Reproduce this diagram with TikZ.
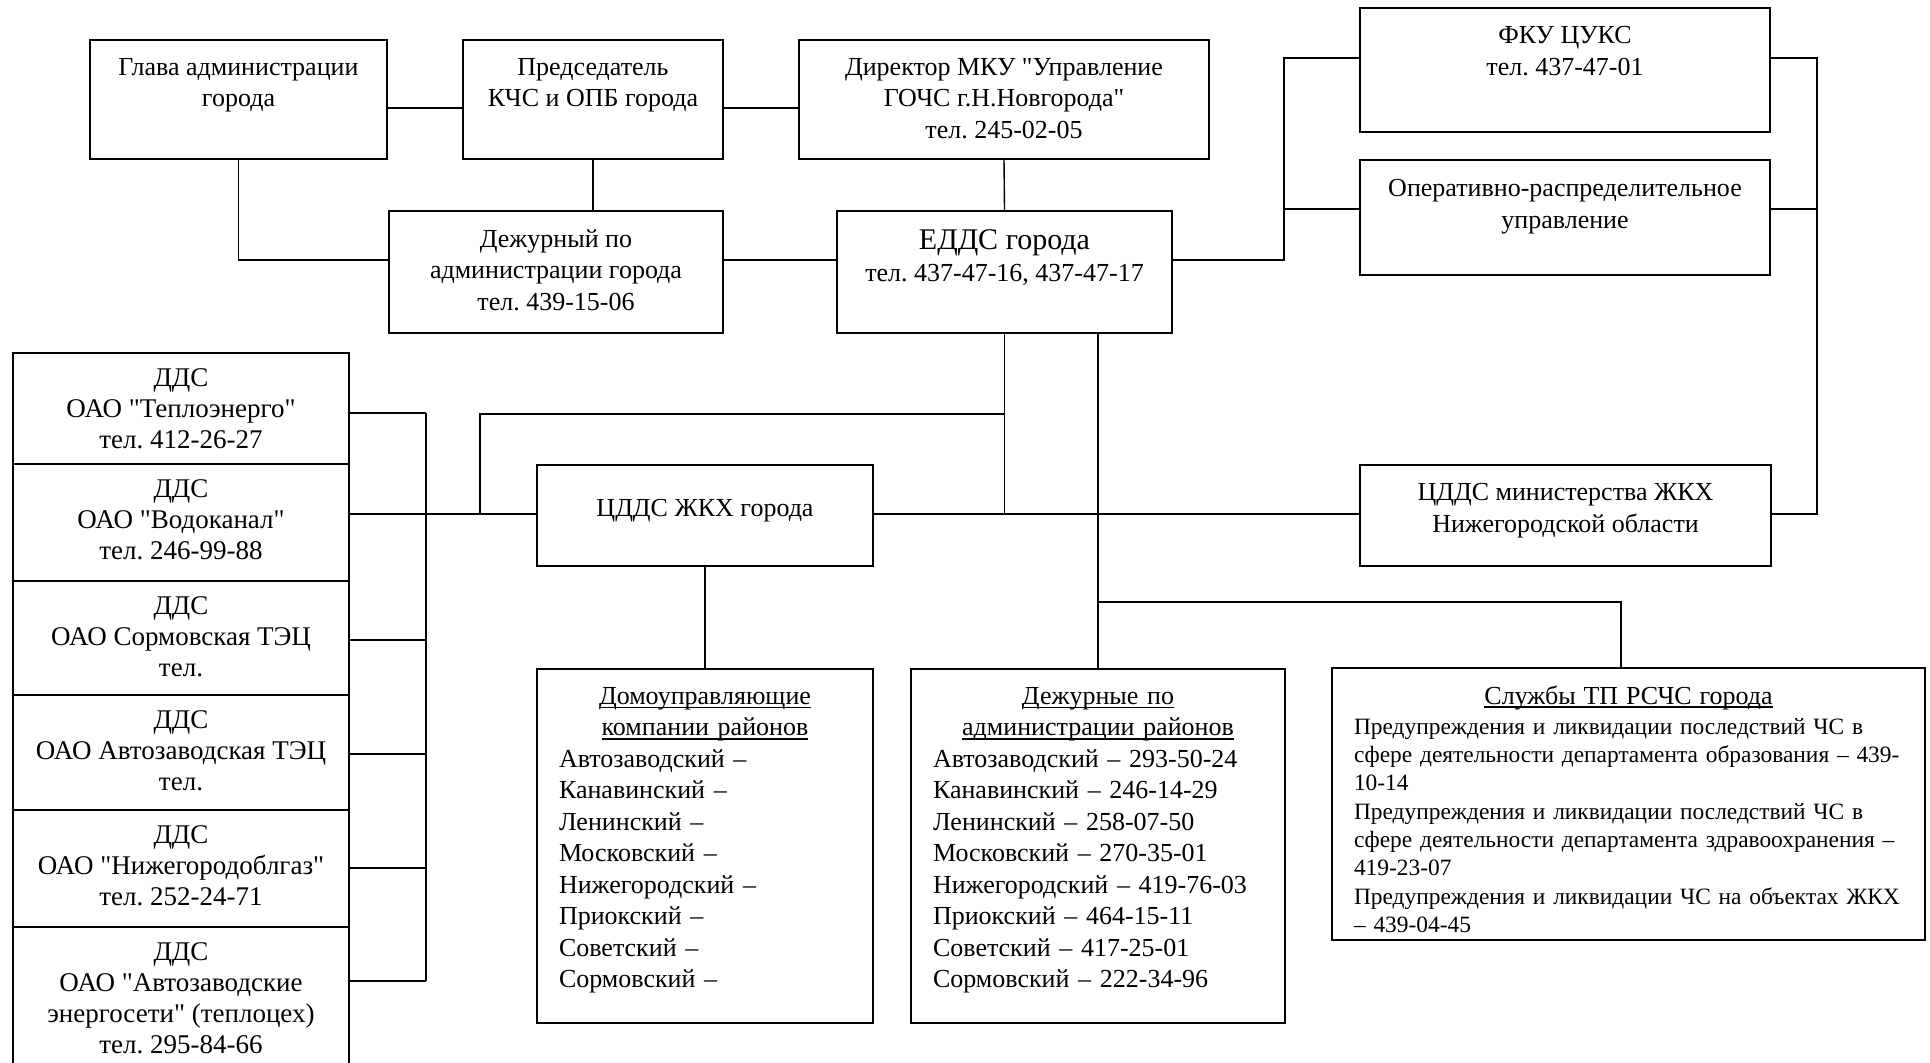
\documentclass[tikz,border=0pt]{standalone}
\usepackage{fontspec}
\setmainfont{Liberation Serif}[Ligatures=TeXOff]
\frenchspacing
\newcommand{\uln}[1]{\leavevmode\setbox0=\hbox{#1}\rlap{\rule[-1.8pt]{\wd0}{0.6pt}}\box0}

\tikzset{
  blk/.style={draw, line width=1pt, inner sep=0pt, anchor=north west},
  txt/.style={anchor=north, inner sep=0pt, align=center, font=\fontsize{13}{15.75}\selectfont},
  lst/.style={txt, align=left},
  lnk/.style={line width=0.7pt},
}

\begin{document}
\begin{tikzpicture}[x=1pt, y=-1pt]
\useasboundingbox (0,0) rectangle (965,531);

% top rows
\node[blk, minimum width=148.5pt, minimum height=59.5pt] (glava) at (44.5,19.5) {};
\node[txt] (glava-t) at ([yshift=-9.5pt]glava.north) {Глава администрации\\города};
\node[blk, minimum width=130pt, minimum height=59.5pt] (pred) at (231,19.5) {};
\node[txt] (pred-t) at ([yshift=-9.5pt]pred.north) {Председатель\\КЧС и ОПБ города};
\node[blk, minimum width=205pt, minimum height=59.5pt] (dir) at (399,19.5) {};
\node[txt] (dir-t) at ([yshift=-9.5pt]dir.north) {Директор МКУ "Управление\\ГОЧС г.Н.Новгорода"\\тел. 245-02-05};
\node[blk, minimum width=167pt, minimum height=61pt] (dezh) at (194,105) {};
\node[txt] (dezh-t) at ([yshift=-9.5pt]dezh.north) {Дежурный по\\администрации города\\тел. 439-15-06};
\node[blk, minimum width=167.5pt, minimum height=61pt] (edds) at (418,105) {};
\node[txt] (edds-t) at ([yshift=-9.5pt]edds.north) {{\fontsize{15}{16.5}\selectfont ЕДДС города}\\[0.5pt]тел. 437-47-16, 437-47-17};

% right column
\node[blk, minimum width=205pt, minimum height=62pt] (fku) at (679.5,3.5) {};
\node[txt] (fku-t) at ([yshift=-9.5pt]fku.north) {ФКУ ЦУКС\\тел. 437-47-01};
\node[blk, minimum width=205pt, minimum height=57.5pt] (oru) at (679.5,79.5) {};
\node[txt] (oru-t) at ([yshift=-10pt]oru.north) {Оперативно-распределительное\\управление};
\node[blk, minimum width=205.5pt, minimum height=50.5pt] (cddsmin) at (679.5,232) {};
\node[txt, anchor=center] (cddsmin-t) at ([yshift=2.5pt]cddsmin.center) {ЦДДС министерства ЖКХ\\Нижегородской области};

% middle
\node[blk, minimum width=168pt, minimum height=50.5pt] (cdds) at (268,232) {};
\node[txt, anchor=center] (cdds-t) at ([yshift=2.5pt]cdds.center) {ЦДДС ЖКХ города};
\node[blk, minimum width=168pt, minimum height=177pt] (dom) at (268,334) {};
\node[lst, text width=146pt] (dom-t) at ([yshift=-9.5pt]dom.north) {%
  \makebox[\linewidth]{\uln{Домоуправляющие}}\\
  \makebox[\linewidth]{\uln{компании районов}}\\
  Автозаводский –\\ Канавинский –\\ Ленинский –\\ Московский –\\
  Нижегородский –\\ Приокский –\\ Советский –\\ Сормовский –};
\node[blk, minimum width=187pt, minimum height=177pt] (dezhr) at (455,334) {};
\node[lst, text width=165pt] (dezhr-t) at ([yshift=-9.5pt]dezhr.north) {%
  \makebox[\linewidth]{\uln{Дежурные по}}\\
  \makebox[\linewidth]{\uln{администрации районов}}\\
  Автозаводский – 293-50-24\\ Канавинский – 246-14-29\\ Ленинский – 258-07-50\\
  Московский – 270-35-01\\ Нижегородский – 419-76-03\\ Приокский – 464-15-11\\
  Советский – 417-25-01\\ Сормовский – 222-34-96};
\node[blk, minimum width=296.5pt, minimum height=136pt] (sluzh) at (665.5,333.5) {};
\node[lst, text width=274.5pt, font=\fontsize{11.7}{14.15}\selectfont] (sluzh-t) at ([yshift=-9pt]sluzh.north) {%
  \makebox[\linewidth]{\fontsize{13}{15}\selectfont\uln{Службы ТП РСЧС города}}\\[1pt]
  \makebox[\linewidth][s]{Предупреждения и ликвидации последствий ЧС в}\\
  \makebox[\linewidth][s]{сфере деятельности департамента образования – 439-}\\
  10-14\\
  \makebox[\linewidth][s]{Предупреждения и ликвидации последствий ЧС в}\\
  \makebox[\linewidth][s]{сфере деятельности департамента здравоохранения –}\\
  419-23-07\\
  \makebox[\linewidth][s]{Предупреждения и ликвидации ЧС на объектах ЖКХ}\\
  – 439-04-45};

% left column
\foreach \n/\ytop/\hgt/\lbl in {
  1/176/55.5/{ДДС\\ОАО "Теплоэнерго"\\тел. 412-26-27},
  2/231.5/58.5/{ДДС\\ОАО "Водоканал"\\тел. 246-99-88},
  3/290/57/{ДДС\\ОАО Сормовская ТЭЦ\\тел.},
  4/347/57.5/{ДДС\\ОАО Автозаводская ТЭЦ\\тел.},
  5/404.5/58.5/{ДДС\\ОАО "Нижегородоблгаз"\\тел. 252-24-71},
  6/463/72/{ДДС\\ОАО "Автозаводские\\энергосети" (теплоцех)\\тел. 295-84-66}}{
  \node[blk, minimum width=168pt, minimum height=\hgt pt] (dds\n) at (6,\ytop) {};
  \node[txt, font=\fontsize{13.5}{15.6}\selectfont] (dds\n-t) at ([yshift=-8pt]dds\n.north) {\lbl};
}

% connectors
\coordinate (r1) at (0,54);
\coordinate (r2) at (0,130);
\coordinate (r3) at (0,207);
\coordinate (r4) at (0,257);
\coordinate (r5) at (0,301);
\draw[lnk] (glava.east |- r1) -- (pred.west |- r1);
\draw[lnk] (pred.east |- r1) -- (dir.west |- r1);
\draw[lnk] (glava.south) |- (dezh.west |- r2);
\draw[lnk] (pred.south) -- (pred.south |- dezh.north);
\draw[lnk] (dezh.east |- r2) -- (edds.west |- r2);
\draw[lnk] (dir.south) -- (edds.north);

\coordinate (ja) at (642,29);
\coordinate (jb) at (642,104.5);
\draw[lnk] (edds.east |- r2) -| (ja) -- (fku.west |- ja);
\draw[lnk] (jb) -- (oru.west |- jb);
\coordinate (ka) at (908.5,29);
\coordinate (kb) at (908.5,104.5);
\draw[lnk] (fku.east |- ka) -- (ka) |- (cddsmin.east |- r4);
\draw[lnk] (oru.east |- kb) -- (kb);

\draw[lnk] (edds.south) -- (edds.south |- r4);
\draw[lnk] (cdds.east |- r4) -- (cddsmin.west |- r4);
\draw[lnk] (dezhr.north |- edds.south) -- (dezhr.north);
\coordinate (js) at (810.5,301);
\draw[lnk] (dezhr.north |- r5) -- (js) -- (js |- sluzh.north);
\draw[lnk] (cdds.south) -- (dom.north);
\coordinate (jc) at (240,257);
\draw[lnk] (edds.south |- r3) -| (jc);

\coordinate (bt) at (213,206.5);
\coordinate (bb) at (213,490.5);
\draw[lnk] (bt) -- (bb);
\draw[lnk] (dds2.east |- r4) -- (cdds.west |- r4);
\foreach \n/\y in {1/206.5, 3/320, 4/377, 5/434, 6/490.5}
  \draw[lnk] (dds\n.east |- 0,\y) -- (bt |- 0,\y);
\end{tikzpicture}
\end{document}
